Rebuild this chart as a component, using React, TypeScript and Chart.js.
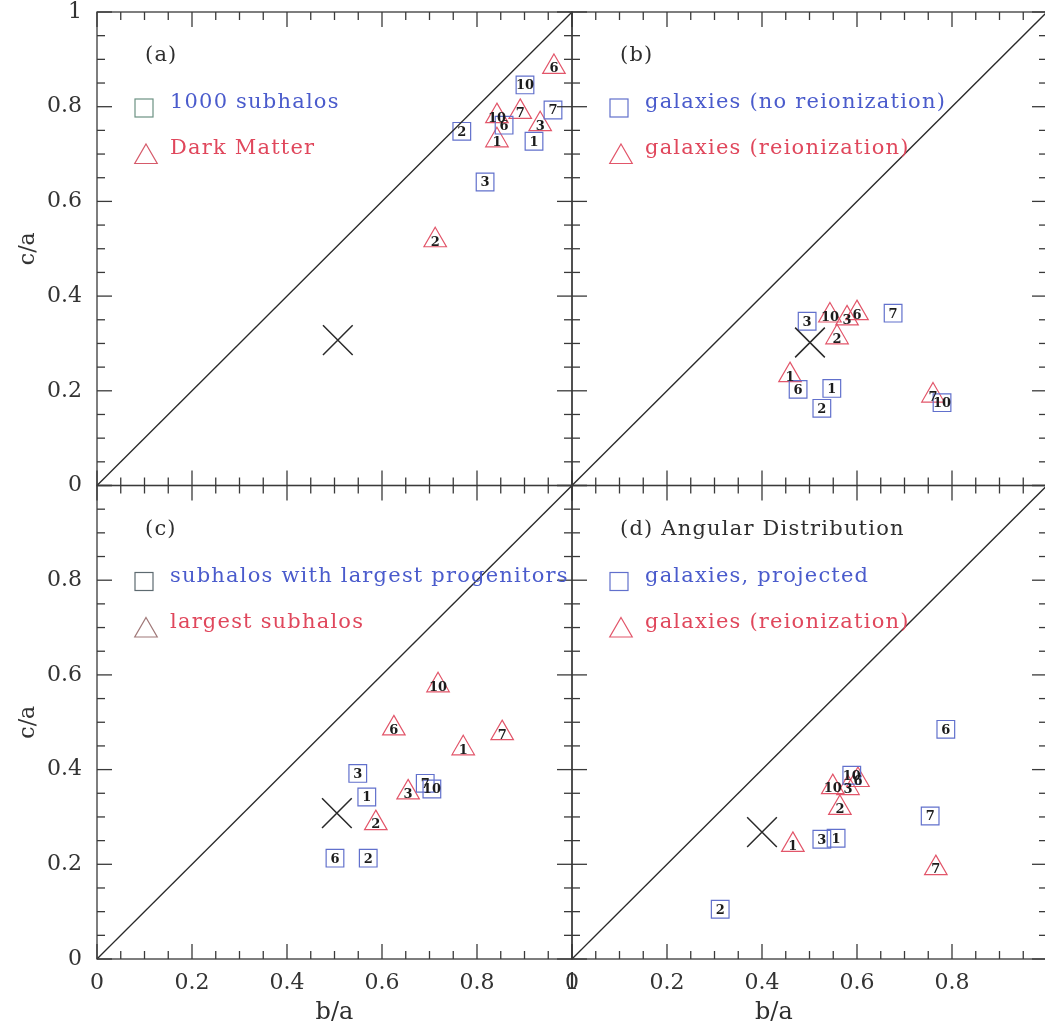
import React, { useEffect, useRef } from 'react';
import { Chart, registerables } from 'chart.js';

Chart.register(...registerables);

// ---- data ----
const markerLabels = ['1', '2', '3', '6', '7', '10'];

// panel (a)
const aSquareX = [0.920, 0.768, 0.817, 0.857, 0.960, 0.901];
const aSquareY = [0.727, 0.748, 0.641, 0.761, 0.793, 0.846];
const aTriX = [0.842, 0.712, 0.933, 0.962, 0.891, 0.842];
const aTriY = [0.729, 0.518, 0.763, 0.884, 0.789, 0.780];
const aCross = [0.507, 0.307];

// panel (b)
const bSquareX = [0.547, 0.526, 0.495, 0.476, 0.676, 0.779];
const bSquareY = [0.205, 0.163, 0.347, 0.203, 0.364, 0.175];
const bTriX = [0.459, 0.558, 0.579, 0.600, 0.760, 0.543];
const bTriY = [0.233, 0.313, 0.353, 0.364, 0.190, 0.359];
const bCross = [0.501, 0.302];

// panel (c)
const cSquareX = [0.568, 0.571, 0.549, 0.501, 0.691, 0.705];
const cSquareY = [0.342, 0.213, 0.392, 0.213, 0.371, 0.359];
const cTriX = [0.771, 0.587, 0.655, 0.625, 0.853, 0.718];
const cTriY = [0.445, 0.287, 0.352, 0.487, 0.477, 0.578];
const cCross = [0.505, 0.308];

// panel (d)
const dSquareX = [0.556, 0.312, 0.526, 0.787, 0.754, 0.589];
const dSquareY = [0.255, 0.105, 0.253, 0.485, 0.302, 0.388];
const dTriX = [0.465, 0.564, 0.581, 0.602, 0.766, 0.549];
const dTriY = [0.241, 0.319, 0.361, 0.378, 0.192, 0.363];
const dCross = [0.400, 0.268];

const diagX = [0, 1];
const diagY = [0, 1];

const xLeftTicks = [0, 0.2, 0.4, 0.6, 0.8, 1];
const xRightTicks = [0, 0.2, 0.4, 0.6, 0.8];
const yTopTicks = [0, 0.2, 0.4, 0.6, 0.8, 1];
const yBottomTicks = [0, 0.2, 0.4, 0.6, 0.8];

const panelTags = ['(a)', '(b)', '(c)', '(d) Angular Distribution'];
const squareLegend = ['1000 subhalos', 'galaxies (no reionization)', 'subhalos with largest progenitors', 'galaxies, projected'];
const triLegend = ['Dark Matter', 'galaxies (reionization)', 'largest subhalos', 'galaxies (reionization)'];

// ---- styles ----
const SQ_COLOR = '#6170cc';
const TRI_COLOR = '#e2566a';
const TXT_BLUE = '#4a5bcc';
const TXT_RED = '#e0475c';
const INK = '#2e2e2e';
const SERIF = '"DejaVu Serif", serif';
const legendSquareColors = ['#6c9283', '#6170cc', '#5d6a70', '#6170cc'];
const legendTriColors = ['#d65a6a', '#e2566a', '#a07878', '#e2566a'];

const pts = (xs: number[], ys: number[]) => xs.map((x, i) => ({ x, y: ys[i] }));

const fmt = (v: number) => (v === 0 ? '0' : v === 1 ? '1' : v.toFixed(1));

function panelDatasets(xId: string, yId: string, sx: number[], sy: number[], tx: number[], ty: number[], cross: number[]) {
  return [
    {
      data: pts(diagX, diagY), showLine: true, pointRadius: 0, borderColor: '#2a2a2a', borderWidth: 1.3,
      xAxisID: xId, yAxisID: yId,
    },
    {
      data: [{ x: cross[0], y: cross[1] }], pointStyle: 'crossRot', pointRadius: 21, borderColor: '#2a2a2a',
      borderWidth: 1.5, backgroundColor: 'transparent', xAxisID: xId, yAxisID: yId,
    },
    {
      data: pts(sx, sy), pointStyle: 'rect', pointRadius: 12.5, borderColor: SQ_COLOR, borderWidth: 1.2,
      backgroundColor: 'transparent', xAxisID: xId, yAxisID: yId, numLabels: markerLabels, labelDy: 1,
    },
    {
      data: pts(tx, ty), pointStyle: 'triangle', pointRadius: 13, borderColor: TRI_COLOR, borderWidth: 1.2,
      backgroundColor: 'transparent', xAxisID: xId, yAxisID: yId, numLabels: markerLabels, labelDy: 2,
    },
  ];
}

const framePlugin = {
  id: 'frame',
  afterDatasetsDraw(chart: any) {
    const ctx = chart.ctx;
    const s = chart.scales;
    const xs = [s.xL, s.xR];
    const ys = [s.yT, s.yB];
    ctx.save();
    ctx.strokeStyle = '#3a3a3a';
    ctx.lineWidth = 1.3;
    const seg = (x1: number, y1: number, x2: number, y2: number) => {
      ctx.beginPath(); ctx.moveTo(x1, y1); ctx.lineTo(x2, y2); ctx.stroke();
    };
    ys.forEach((ya: any, row: number) => {
      xs.forEach((xa: any, col: number) => {
        const l = xa.getPixelForValue(0), r = xa.getPixelForValue(1);
        const b = ya.getPixelForValue(0), t = ya.getPixelForValue(1);
        ctx.strokeRect(l, t, r - l, b - t);
        for (let k = 0; k <= 20; k++) {
          const v = k / 20;
          const len = k % 4 === 0 ? 15 : 8;
          const px = xa.getPixelForValue(v);
          const py = ya.getPixelForValue(v);
          seg(px, b, px, b - len);
          seg(px, t, px, t + len);
          seg(l, py, l + len, py);
          seg(r, py, r - len, py);
        }
        // legend
        const i = row * 2 + col;
        ctx.save();
        ctx.textBaseline = 'middle';
        ctx.textAlign = 'left';
        ctx.font = `21px ${SERIF}`;
        try { (ctx as any).letterSpacing = '1.2px'; } catch (e) {}
        ctx.fillStyle = INK;
        ctx.fillText(panelTags[i], l + 48, t + 44);
        ctx.fillStyle = TXT_BLUE;
        ctx.fillText(squareLegend[i], l + 73, t + 91);
        ctx.fillStyle = TXT_RED;
        ctx.fillText(triLegend[i], l + 73, t + 137);
        try { (ctx as any).letterSpacing = '0px'; } catch (e) {}
        ctx.lineWidth = 1.2;
        ctx.strokeStyle = legendSquareColors[i];
        ctx.strokeRect(l + 38, t + 87, 18, 18);
        ctx.strokeStyle = legendTriColors[i];
        const cx = l + 49, cy = t + 145, rr = 13;
        ctx.beginPath();
        ctx.moveTo(cx, cy - rr);
        ctx.lineTo(cx + rr * 0.866, cy + rr / 2);
        ctx.lineTo(cx - rr * 0.866, cy + rr / 2);
        ctx.closePath();
        ctx.stroke();
        ctx.restore();
      });
    });
    // x-axis titles
    ctx.fillStyle = INK;
    ctx.font = `24px ${SERIF}`;
    ctx.textAlign = 'center';
    ctx.textBaseline = 'middle';
    ctx.fillText('b/a', s.xL.getPixelForValue(0.5), 1013);
    ctx.fillText('b/a', s.xR.getPixelForValue(0.425), 1013);

    // marker numbers
    ctx.fillStyle = '#1c1c1c';
    ctx.font = `bold 13px ${SERIF}`;
    chart.data.datasets.forEach((ds: any, di: number) => {
      if (!ds.numLabels) return;
      const meta = chart.getDatasetMeta(di);
      meta.data.forEach((el: any, j: number) => {
        ctx.fillText(ds.numLabels[j], el.x, el.y + (ds.labelDy || 0));
      });
    });
    ctx.restore();
  },
};

const tickFont = { family: SERIF, size: 22 };

function xScale(ticks: number[], weight: number, stackWeight: number, max: number) {
  return {
    type: 'linear', position: 'bottom', stack: 'x', stackWeight, weight, min: 0, max,
    afterFit: (sc: any) => { sc.height = 74; sc.paddingLeft = 0; sc.paddingRight = 0; sc.paddingTop = 0; sc.paddingBottom = 0; },
    afterBuildTicks: (sc: any) => { sc.ticks = ticks.map((v) => ({ value: v })); },
    grid: { display: false, drawTicks: false }, border: { display: false },
    ticks: { autoSkip: false, maxRotation: 0, padding: 11, color: '#333', font: tickFont, callback: (v: any) => fmt(Number(v)) },
  };
}

function yScale(ticks: number[], weight: number) {
  return {
    type: 'linear', position: 'left', stack: 'y', stackWeight: 1, weight, min: 0, max: 1,
    afterFit: (sc: any) => { sc.width = 97; sc.paddingLeft = 0; sc.paddingRight = 0; sc.paddingTop = 0; sc.paddingBottom = 0; },
    afterBuildTicks: (sc: any) => { sc.ticks = ticks.map((v) => ({ value: v })); },
    grid: { display: false, drawTicks: false }, border: { display: false },
    ticks: { autoSkip: false, padding: 15, color: '#333', font: tickFont, callback: (v: any) => fmt(Number(v)) },
    title: { display: true, text: 'c/a', color: '#333', font: { family: SERIF, size: 22 }, padding: { top: 15, bottom: 0 } },
  };
}

export default function App() {
  const ref = useRef<HTMLCanvasElement | null>(null);
  useEffect(() => {
    if (!ref.current) return;
    const chart = new Chart(ref.current, {
      type: 'scatter',
      data: {
        datasets: [
          ...panelDatasets('xL', 'yT', aSquareX, aSquareY, aTriX, aTriY, aCross),
          ...panelDatasets('xR', 'yT', bSquareX, bSquareY, bTriX, bTriY, bCross),
          ...panelDatasets('xL', 'yB', cSquareX, cSquareY, cTriX, cTriY, cCross),
          ...panelDatasets('xR', 'yB', dSquareX, dSquareY, dTriX, dTriY, dCross),
        ] as any,
      },
      options: {
        animation: false,
        responsive: false,
        events: [],
        layout: { autoPadding: false, padding: { top: 12, left: 0, right: 0, bottom: 0 } },
        plugins: { legend: { display: false }, tooltip: { enabled: false } },
        scales: {
          xL: xScale(xLeftTicks, 1, 475, 1),
          xR: xScale(xRightTicks, 2, 473, 473 / 475),
          yT: yScale(yTopTicks, 2),
          yB: yScale(yBottomTicks, 1),
        } as any,
      },
      plugins: [framePlugin],
    });
    return () => chart.destroy();
  }, []);
  return (
    <div style={{ position: 'absolute', left: 0, top: 0, width: 1045, height: 1033, background: '#fff' }}>
      <canvas ref={ref} width={1045} height={1033} style={{ display: 'block' }} />
    </div>
  );
}
